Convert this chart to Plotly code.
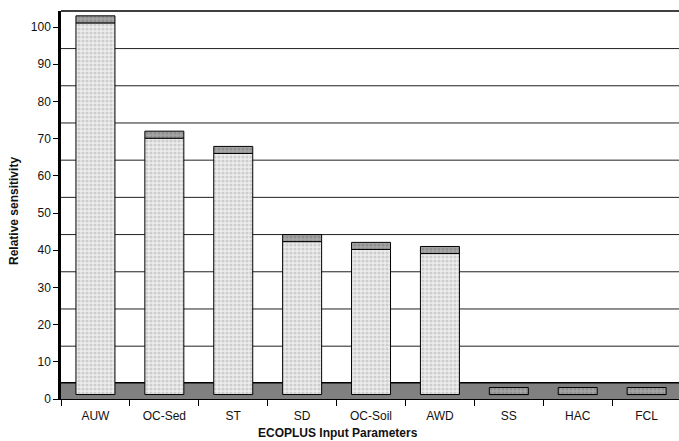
import plotly.graph_objects as go

# ---- data ----
categories = ["AUW", "OC-Sed", "ST", "SD", "OC-Soil", "AWD", "SS", "HAC", "FCL"]
front_top = [101.1, 70.1, 66.0, 42.3, 40.2, 39.1, 1.2, 1.2, 1.2]   # top of front face
y_ticks = [0, 10, 20, 30, 40, 50, 60, 70, 80, 90, 100]

# ---- style constants (3D look) ----
BAR_BASE = 1.2        # bars stand on the floor
TOP_DEPTH = 1.9       # height of the visible top face
FLOOR_TOP = 4.4       # floor band height
GRID_SHIFT = 4.2      # back-wall gridlines are shifted up
Y_MAX = 104.3
FONT = "Liberation Sans, Arial, sans-serif"

front_h = [v - BAR_BASE for v in front_top]
top_h = [TOP_DEPTH for _ in front_top]

fig = go.Figure()
fig.add_trace(go.Bar(
    x=categories, y=front_h, base=[BAR_BASE] * len(categories), width=0.566,
    marker=dict(color="#e0e0e0", line=dict(color="black", width=1),
                pattern=dict(shape=".", fgcolor="#aeaeae", bgcolor="#ededed", size=4, solidity=0.5)),
    hoverinfo="skip", showlegend=False))
fig.add_trace(go.Bar(
    x=categories, y=top_h, base=front_top, width=0.566,
    marker=dict(color="#999999", line=dict(color="black", width=1),
                pattern=dict(shape=".", fgcolor="#777777", bgcolor="#a6a6a6", size=4, solidity=0.5)),
    hoverinfo="skip", showlegend=False))

shapes = []
# floor band
shapes.append(dict(type="rect", xref="paper", yref="y", x0=0, x1=1, y0=0, y1=FLOOR_TOP,
                   fillcolor="#808080", line=dict(width=0), layer="below"))
shapes.append(dict(type="line", xref="paper", yref="y", x0=0, x1=1, y0=FLOOR_TOP, y1=FLOOR_TOP,
                   line=dict(color="black", width=1.5), layer="below"))
# shifted gridlines on the back wall
for t in y_ticks[1:-1]:
    g = t + GRID_SHIFT
    shapes.append(dict(type="line", xref="paper", yref="y", x0=0, x1=1, y0=g, y1=g,
                       line=dict(color="#202020", width=1), layer="below"))
# top border
shapes.append(dict(type="line", xref="paper", yref="paper", x0=0, x1=1, y0=1, y1=1,
                   line=dict(color="black", width=1.5)))

fig.update_layout(
    width=679, height=441,
    margin=dict(l=61, r=0, t=11, b=42),
    paper_bgcolor="white", plot_bgcolor="white",
    barmode="overlay",
    font=dict(family=FONT, size=12, color="#111111"),
    shapes=shapes,
    xaxis=dict(type="category", range=[-0.5, 8.47], tickson="boundaries",
               ticks="outside", ticklen=6, tickcolor="black", tickwidth=1,
               ticklabelstandoff=6,
               showline=True, linecolor="black", linewidth=1,
               showgrid=False, tickfont=dict(size=12, family=FONT)),
    yaxis=dict(range=[0, Y_MAX], tickvals=y_ticks, ticks="outside", ticklen=5,
               tickcolor="black", showline=True, linecolor="black", linewidth=2.5,
               showgrid=False, zeroline=False, tickfont=dict(size=12, family=FONT)),
    annotations=[
        dict(text="<b>ECOPLUS Input Parameters</b>", xref="paper", yref="paper",
             x=(338 - 61) / 618, y=-(433 - 399) / 388, showarrow=False,
             xanchor="center", yanchor="middle", font=dict(size=12, family=FONT, color="#111111")),
        dict(text="<b>Relative sensitivity</b>", xref="paper", yref="paper",
             x=-(61 - 14) / 618, y=(399 - 211) / 388, textangle=-90, showarrow=False,
             xanchor="center", yanchor="middle", font=dict(size=12, family=FONT, color="#111111")),
    ],
)

fig.write_html("out.html", config={"displayModeBar": False},
               post_script="document.body.style.margin='0';document.body.style.padding='0';")
